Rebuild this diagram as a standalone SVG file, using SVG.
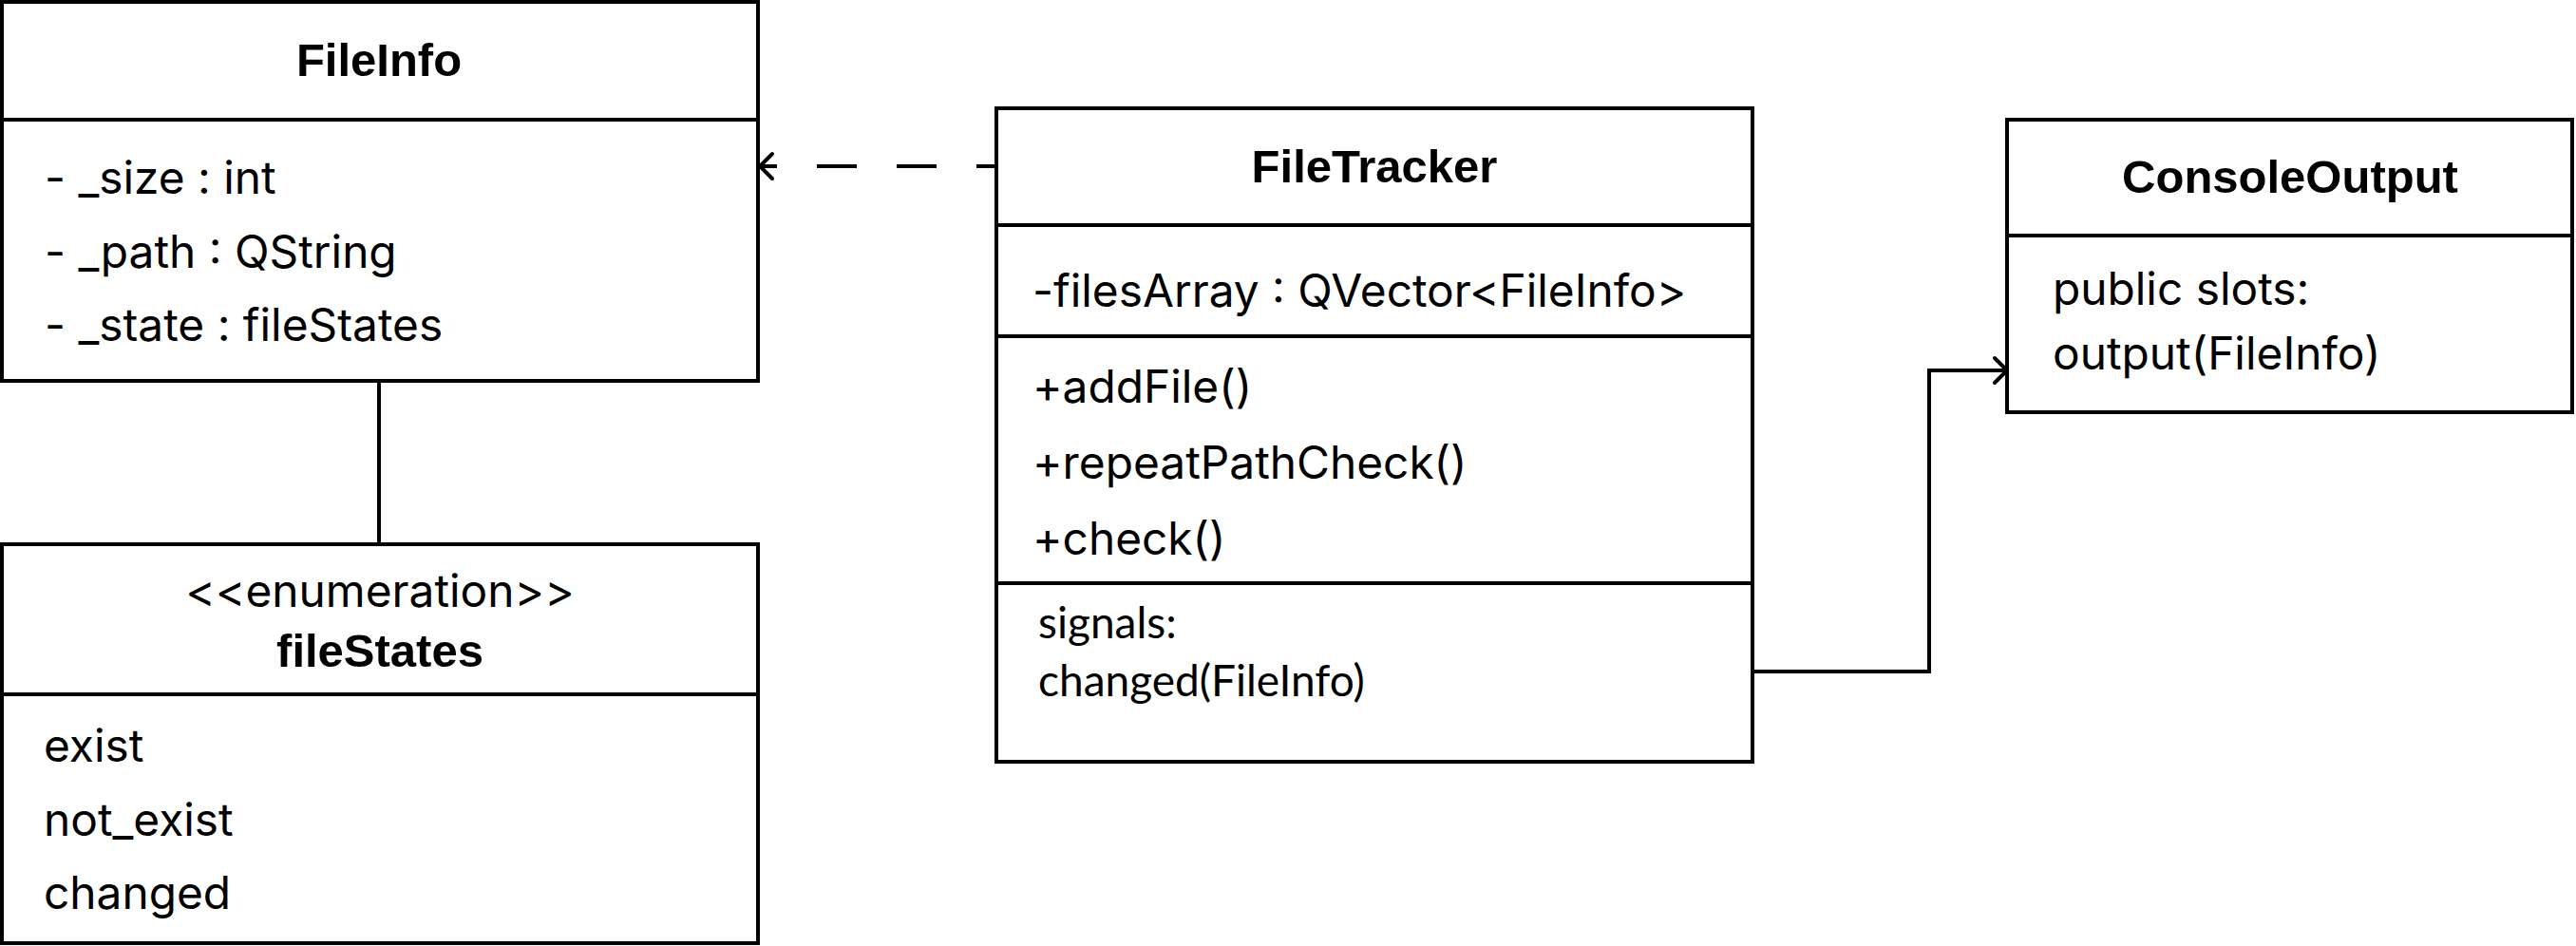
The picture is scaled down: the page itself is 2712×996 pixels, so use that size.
<svg xmlns="http://www.w3.org/2000/svg" width="2712" height="996" viewBox="0 0 2712 996">
<style>
.box{fill:#ffffff;stroke:#000000;stroke-width:4}
.div{stroke:#000000;stroke-width:4;fill:none}
.t{font-family:"Inter","Liberation Sans",Arial,sans-serif;font-size:47.8px;fill:#000000}
.h{font-family:"Liberation Sans",Arial,Helvetica,sans-serif;font-size:49px;font-weight:bold;fill:#000000;text-anchor:middle}
.s{font-family:"Lato","Open Sans",sans-serif;font-size:46px;fill:#000000}
.edge{stroke:#000000;stroke-width:4;fill:none}
.head{stroke:#000000;stroke-width:4;fill:none;stroke-linecap:round;stroke-linejoin:miter}
</style>
<rect width="2712" height="996" fill="#ffffff"/>
<g id="connectors">
  <path class="edge" d="M1049 175 L802 175" stroke-dasharray="42 42" stroke-dashoffset="21"/>
  <polyline class="head" points="813,162 800,175 813,188"/>
  <path class="edge" d="M1845 707 L2031 707 L2031 390 L2111 390"/>
  <polyline class="head" points="2100,377 2113,390 2100,403"/>
  <path class="edge" d="M399 401 L399 573"/>
</g>
<g id="FileInfo">
  <rect class="box" x="2" y="2" width="796" height="399"/>
  <line class="div" x1="2" y1="126" x2="798" y2="126"/>
  <text class="h" x="399" y="80">FileInfo</text>
  <text class="t" x="47" y="204">- _size : int</text>
  <text class="t" x="47" y="282">- _path : QString</text>
  <text class="t" x="47" y="359">- _state : fileStates</text>
</g>
<g id="fileStates">
  <rect class="box" x="2" y="573" width="796" height="420"/>
  <line class="div" x1="2" y1="731" x2="798" y2="731"/>
  <text class="t" x="400" y="639" text-anchor="middle">&lt;&lt;enumeration&gt;&gt;</text>
  <text class="h" x="400" y="702">fileStates</text>
  <text class="t" x="46" y="802">exist</text>
  <text class="t" x="46" y="880">not_exist</text>
  <text class="t" x="46" y="957">changed</text>
</g>
<g id="FileTracker">
  <rect class="box" x="1049" y="114" width="796" height="688"/>
  <line class="div" x1="1049" y1="237" x2="1845" y2="237"/>
  <line class="div" x1="1049" y1="354" x2="1845" y2="354"/>
  <line class="div" x1="1049" y1="614" x2="1845" y2="614"/>
  <text class="h" x="1447" y="192">FileTracker</text>
  <text class="t" x="1087" y="323">-filesArray : QVector&lt;FileInfo&gt;</text>
  <text class="t" x="1087" y="424">+addFile()</text>
  <text class="t" x="1087" y="504">+repeatPathCheck()</text>
  <text class="t" x="1087" y="584">+check()</text>
  <text class="s" x="1093" y="672">signals:</text>
  <text class="s" x="1093" y="733">changed(FileInfo)</text>
</g>
<g id="ConsoleOutput">
  <rect class="box" x="2113" y="126" width="595" height="308"/>
  <line class="div" x1="2113" y1="248" x2="2708" y2="248"/>
  <text class="h" x="2411" y="203">ConsoleOutput</text>
  <text class="t" x="2161" y="321">public slots:</text>
  <text class="t" x="2161" y="389">output(FileInfo)</text>
</g>
</svg>
